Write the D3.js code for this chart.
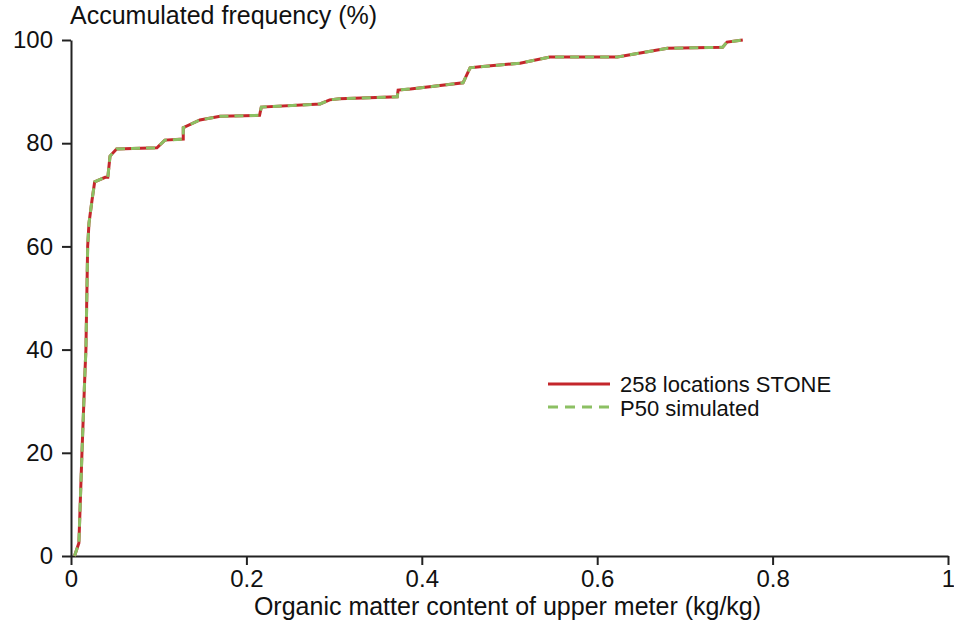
<!DOCTYPE html>
<html>
<head>
<meta charset="utf-8">
<script src="https://cdn.jsdelivr.net/npm/d3@7"></script>
<style>
  body { margin: 0; background: #fff; }
  text { font-family: "Liberation Sans", Arial, sans-serif; fill: #111; }
</style>
</head>
<body>
<div id="chart"></div>
<script>
// cumulative distribution
var omContent = [0.004, 0.009, 0.0125, 0.016, 0.017, 0.019, 0.0205, 0.024, 0.027, 0.039, 0.042, 0.0445, 0.052,
  0.098, 0.107, 0.128, 0.128, 0.147, 0.17, 0.215, 0.217, 0.284, 0.295, 0.306, 0.372, 0.373, 0.387, 0.447,
  0.455, 0.466, 0.512, 0.546, 0.623, 0.680, 0.743, 0.748, 0.766];
var accFreq = [0, 2.5, 20, 36, 40, 60, 64.5, 69, 72.5, 73.4, 73.4, 77.5, 78.9,
  79.1, 80.6, 80.8, 83, 84.5, 85.2, 85.4, 87.0, 87.6, 88.4, 88.6, 89.0, 90.3, 90.5, 91.7,
  94.6, 94.8, 95.5, 96.7, 96.7, 98.4, 98.6, 99.6, 100];
// the simulated P50 curve lies on top of the observed one
var simContent = omContent.slice();
var simFreq = accFreq.slice();

var xTicks = [0, 0.2, 0.4, 0.6, 0.8, 1];
var yTicks = [0, 20, 40, 60, 80, 100];
var seriesNames = ["258 locations STONE", "P50 simulated"];

var margin = {top: 40, right: 6, bottom: 73, left: 71},
    width = 954 - margin.left - margin.right,
    height = 629 - margin.top - margin.bottom;

var svg = d3.select("#chart")
  .append("svg")
    .attr("width", 954)
    .attr("height", 629)
  .append("g")
    .attr("transform", "translate(" + margin.left + "," + margin.top + ")");

var x = d3.scaleLinear().domain([0, 1]).range([0, width]);
var y = d3.scaleLinear().domain([0, 100]).range([height, 0]);

var xAxis = svg.append("g")
    .attr("transform", "translate(0," + height + ")")
    .call(d3.axisBottom(x).tickValues(xTicks).tickSizeInner(9).tickSizeOuter(0).tickPadding(5)
      .tickFormat(function(d) { return d; }));
var yAxis = svg.append("g")
    .call(d3.axisLeft(y).tickValues(yTicks).tickSizeInner(9).tickSizeOuter(0).tickPadding(9));

[xAxis, yAxis].forEach(function(a) {
  a.select(".domain").attr("stroke", "#222").attr("stroke-width", 2);
  a.selectAll(".tick line").attr("stroke", "#222").attr("stroke-width", 2);
  a.selectAll(".tick text").style("font-size", "24px").attr("fill", "#111");
});

svg.append("text")
    .attr("x", -1)
    .attr("y", -16)
    .style("font-size", "25px")
    .text("Accumulated frequency (%)");

svg.append("text")
    .attr("x", width / 2 - 2)
    .attr("y", height + 59)
    .attr("text-anchor", "middle")
    .style("font-size", "25px")
    .text("Organic matter content of upper meter (kg/kg)");

var line = d3.line()
    .x(function(d) { return x(d[0]); })
    .y(function(d) { return y(d[1]); });

svg.append("path")
    .datum(d3.zip(omContent, accFreq))
    .attr("fill", "none")
    .attr("stroke", "#c4262b")
    .attr("stroke-width", 3)
    .attr("d", line);

svg.append("path")
    .datum(d3.zip(simContent, simFreq))
    .attr("fill", "none")
    .attr("stroke", "#8cc063")
    .attr("stroke-width", 3)
    .attr("stroke-dasharray", "9,6")
    .attr("d", line);

// legend
var legend = svg.append("g").attr("transform", "translate(477,344)");
legend.append("line")
    .attr("x1", 0).attr("x2", 62).attr("y1", 0).attr("y2", 0)
    .attr("stroke", "#c4262b").attr("stroke-width", 3);
legend.append("line")
    .attr("x1", 0).attr("x2", 62).attr("y1", 23).attr("y2", 23)
    .attr("stroke", "#8cc063").attr("stroke-width", 3)
    .attr("stroke-dasharray", "10,7");
legend.selectAll("text.lab")
    .data(seriesNames)
    .enter().append("text")
    .attr("class", "lab")
    .attr("x", 72)
    .attr("y", function(d, i) { return i * 24 + 8; })
    .style("font-size", "22px")
    .text(function(d) { return d; });
</script>
</body>
</html>
